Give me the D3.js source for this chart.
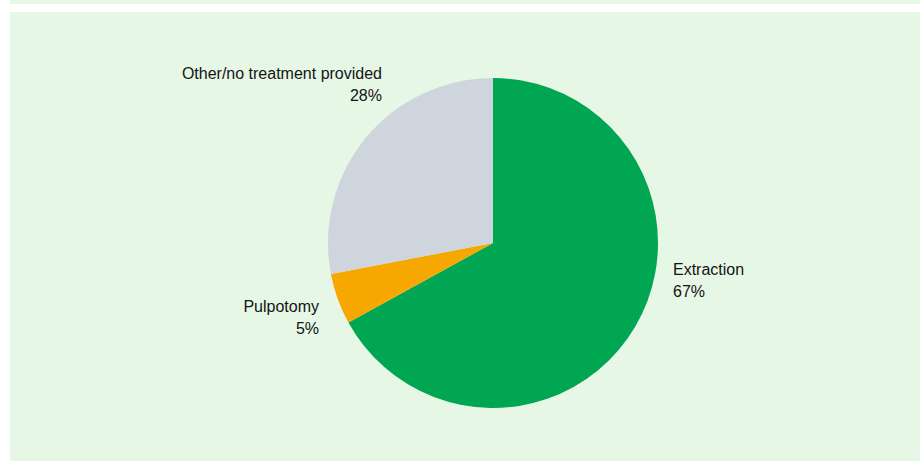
<!DOCTYPE html>
<html>
<head>
<meta charset="utf-8">
<script src="https://cdn.jsdelivr.net/npm/d3@7"></script>
<style>
  html, body { margin: 0; padding: 0; background: #ffffff; }
  svg { display: block; }
  text { font-family: "Liberation Sans", Arial, sans-serif; fill: #141414; }
</style>
</head>
<body>
<svg id="chart" width="920" height="461"></svg>
<script>
// ---- data ----
const categories = ["Extraction", "Pulpotomy", "Other/no treatment provided"];
const values = [67, 5, 28];
const valueLabels = ["67%", "5%", "28%"];
const colors = ["#00a651", "#f7a800", "#cfd5dc"];

// ---- layout ----
const W = 920, H = 461;
const svg = d3.select("#chart");
const bg = "#e6f7e6";

svg.append("rect").attr("x", 10).attr("y", 0).attr("width", W - 10).attr("height", 4).attr("fill", bg);
svg.append("rect").attr("x", 10).attr("y", 12).attr("width", W - 10).attr("height", H - 12).attr("fill", bg);

const cx = 493, cy = 243, r = 165;
const g = svg.append("g").attr("transform", `translate(${cx},${cy})`);

const pie = d3.pie().sort(null).value(d => d.v);
const data = categories.map((c, i) => ({ c, v: values[i], lab: valueLabels[i], col: colors[i] }));
const arcs = pie(data);
const arc = d3.arc().innerRadius(0).outerRadius(r);

g.selectAll("path").data(arcs).enter().append("path")
  .attr("d", arc)
  .attr("fill", d => d.data.col);

// label placement (text only), relative to pie centre
const labelPos = [
  { dx: 180, dy: 32, anchor: "start" },   // Extraction
  { dx: -174, dy: 69, anchor: "end" },    // Pulpotomy
  { dx: -111, dy: -164, anchor: "end" }   // Other
];
const fs = 16;
arcs.forEach((a, i) => {
  const p = labelPos[i];
  const t = g.append("text")
    .attr("x", p.dx).attr("y", p.dy)
    .attr("text-anchor", p.anchor)
    .style("font-size", fs + "px");
  t.append("tspan").attr("x", p.dx).attr("dy", 0).text(a.data.c);
  t.append("tspan").attr("x", p.dx).attr("dy", 22).text(a.data.lab);
});
</script>
</body>
</html>
